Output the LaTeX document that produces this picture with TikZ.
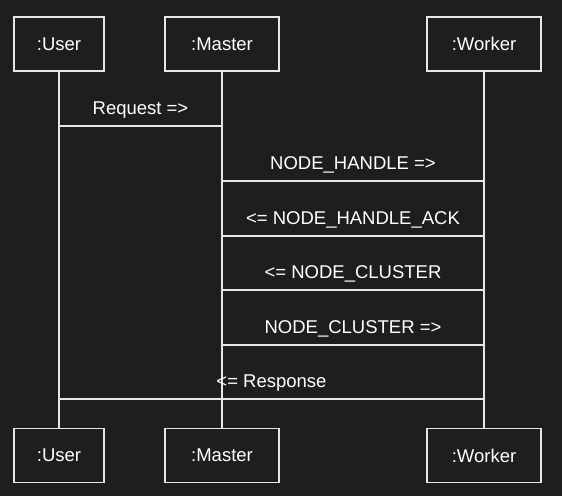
\documentclass[tikz,border=0pt]{standalone}
\usepackage{fontspec}
\setmainfont{Liberation Sans}
\definecolor{bg}{HTML}{1E1E1E}
\definecolor{fg}{HTML}{E6E6E6}
\tikzset{
    actor/.style = {draw = fg, line width = 1.3pt, text = white, minimum height = 54pt,
        inner sep = 0pt, font = \fontsize{18.5}{22}\selectfont},
    life/.style = {draw = fg, line width = 1.3pt},
    msg/.style = {text = white, anchor = base, yshift = 12pt, inner sep = 0pt,
        font = \fontsize{18.5}{22}\selectfont}
}
\begin{document}
\begin{tikzpicture}[x = 1pt, y = -1pt]
    \fill[bg] (0,0) rectangle (562,496);
    \useasboundingbox (0,0) rectangle (562,496);
    % participants
    \node[actor, minimum width = 90pt] (userT) at (59,44) {:User};
    \node[actor, minimum width = 114pt] (masterT) at (222,44) {:Master};
    \node[actor, minimum width = 114pt] (workerT) at (484,44) {:Worker};
    \node[actor, minimum width = 90pt] (userB) at (59,455.5) {:User};
    \node[actor, minimum width = 114pt] (masterB) at (222,455.5) {:Master};
    \node[actor, minimum width = 114pt] (workerB) at (484,455.5) {:Worker};
    % lifelines
    \draw[life] (userT) -- (userB);
    \draw[life] (masterT) -- (masterB);
    \draw[life] (workerT) -- (workerB);
    % message points
    \coordinate (u1) at (59,126);  \coordinate (m1) at (222,126);
    \coordinate (m2) at (222,181); \coordinate (w2) at (484,181);
    \coordinate (m3) at (222,236); \coordinate (w3) at (484,236);
    \coordinate (m4) at (222,290); \coordinate (w4) at (484,290);
    \coordinate (m5) at (222,345); \coordinate (w5) at (484,345);
    \coordinate (u6) at (59,399);  \coordinate (w6) at (484,399);
    % messages
    \draw[life] (u1) -- node[msg] {Request =>} (m1);
    \draw[life] (m2) -- node[msg] {NODE\_HANDLE =>} (w2);
    \draw[life] (m3) -- node[msg] {<= NODE\_HANDLE\_ACK} (w3);
    \draw[life] (m4) -- node[msg] {<= NODE\_CLUSTER} (w4);
    \draw[life] (m5) -- node[msg] {NODE\_CLUSTER =>} (w5);
    \draw[life] (u6) -- node[msg] {<= Response} (w6);
\end{tikzpicture}
\end{document}
